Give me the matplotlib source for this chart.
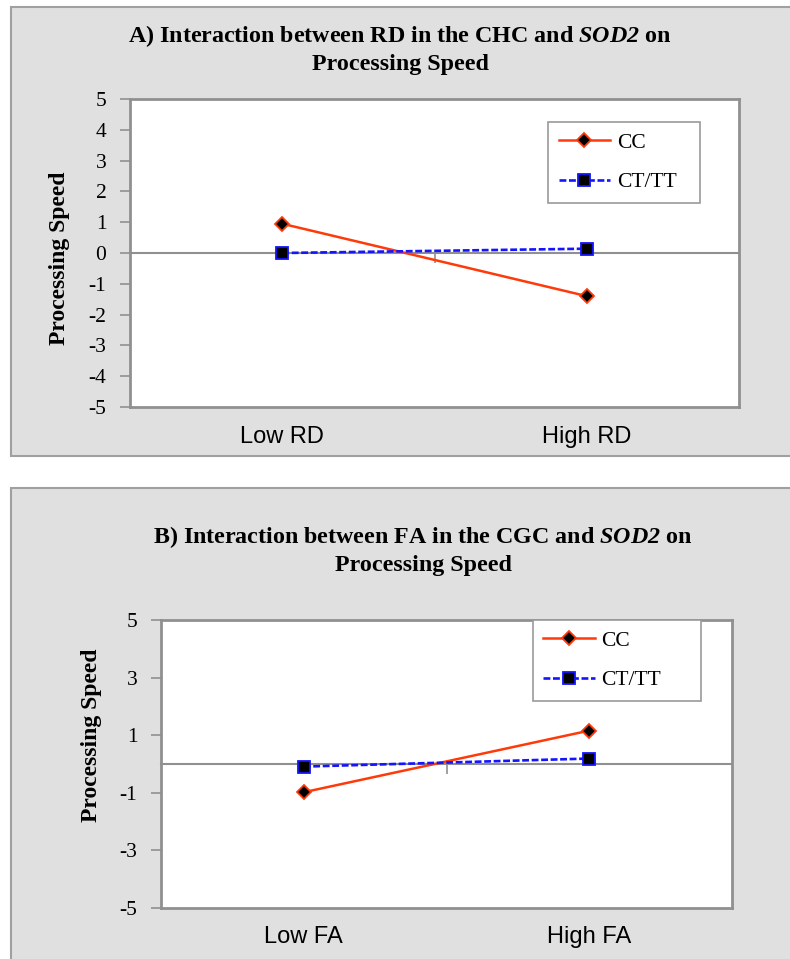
import matplotlib

matplotlib.use("Agg")
import matplotlib.pyplot as plt
from matplotlib.patches import Rectangle

plt.rcParams["axes.unicode_minus"] = False
plt.rcParams["mathtext.fontset"] = "custom"
plt.rcParams["mathtext.rm"] = "Liberation Serif"
plt.rcParams["mathtext.bf"] = "Liberation Serif:bold"
plt.rcParams["mathtext.it"] = "Liberation Serif:italic"
plt.rcParams["mathtext.bfit"] = "Liberation Serif:italic:bold"

SERIF, SANS = "Liberation Serif", "Liberation Sans"
RED, BLUE = "#ff3a0a", "#1414ff"
PANEL, EDGE, AXGRAY = "#e0e0e0", "#a0a0a0", "#909090"

W, H = 790, 959

# panel A: RD in the CHC
LABELS_A = ["Low RD", "High RD"]
CC_A = [0.95, -1.40]
CTTT_A = [0.0, 0.14]
YTICKS_A = [-5, -4, -3, -2, -1, 0, 1, 2, 3, 4, 5]

# panel B: FA in the CGC
LABELS_B = ["Low FA", "High FA"]
CC_B = [-0.98, 1.16]
CTTT_B = [-0.09, 0.19]
YTICKS_B = [-5, -3, -1, 1, 3, 5]


def fx(px):
    return px / W


def fy(py):
    return 1 - py / H


def box(fig, x0, y0, x1, y1):
    fig.patches.append(Rectangle((fx(x0), fy(y1)), (x1 - x0) / W, (y1 - y0) / H,
                                 transform=fig.transFigure, facecolor=PANEL,
                                 edgecolor=EDGE, lw=1.5, zorder=-1))


def draw_panel(ax, labels, cc, cttt, yticks, leg_box, xpad):
    x = list(range(len(labels)))
    ax.set_facecolor("white")
    ax.plot(x, cc, color=RED, lw=1.8, marker="D", ms=7, mfc="black",
            mec=RED, mew=1.3, label="CC", zorder=3)
    ax.plot(x, cttt, color=BLUE, lw=1.9, ls=(0, (2.6, 1.0)), marker="s", ms=8.5,
            mfc="black", mec=BLUE, mew=1.3, label="CT/TT", zorder=3)
    ax.set_xlim(-0.5, len(labels) - 0.5)
    ax.set_ylim(-5, 5)
    ax.set_yticks(yticks)
    ax.set_xticks(x, labels, fontfamily=SANS, fontsize=17)
    ax.tick_params(axis="x", length=0, pad=xpad)
    ax.tick_params(axis="y", direction="out", length=7, width=1.2,
                   color=AXGRAY, pad=10, labelsize=15.5)
    for lab in ax.get_yticklabels():
        lab.set_fontfamily(SERIF)
    for s in ax.spines.values():
        s.set_color(AXGRAY)
        s.set_linewidth(2)

    # category axis crossing at zero, with its single mid tick
    zero = ax.secondary_xaxis(0.5)
    zero.set_xticks([0.5], [""])
    zero.tick_params(direction="in", length=7, width=1.2, color=AXGRAY)
    for s in zero.spines.values():
        s.set_color(AXGRAY)
        s.set_linewidth(1.5)

    leg = ax.legend(loc="upper left", bbox_to_anchor=leg_box, mode="expand",
                    borderaxespad=0, fancybox=False, edgecolor="#9a9a9a",
                    framealpha=1, prop={"family": SERIF, "size": 15.5},
                    handlelength=2.4, handletextpad=0.3, labelspacing=0.9,
                    borderpad=0.5)
    leg.get_frame().set_linewidth(1.2)


fig = plt.figure(figsize=(W / 100, H / 100), dpi=100)
fig.patch.set_facecolor("white")

box(fig, 11, 7, 795, 456)
box(fig, 11, 488, 795, 965)

title_kw = dict(ha="center", va="baseline", fontsize=17.3, fontweight="bold", family=SERIF)
label_kw = dict(ha="center", va="center", rotation=90, fontsize=17,
                fontweight="bold", family=SERIF)

fig.text(fx(400), fy(42), r"A) Interaction between RD in the CHC and $\mathbfit{SOD2}$ on", **title_kw)
fig.text(fx(400), fy(70), "Processing Speed", **title_kw)
ax_a = fig.add_axes([fx(130), fy(407), (739 - 130) / W, (407 - 99) / H])
draw_panel(ax_a, LABELS_A, CC_A, CTTT_A, YTICKS_A, (0.686, 0.925, 0.25, 0.0), 14)
fig.text(fx(59), fy(258), "Processing Speed", **label_kw)

fig.text(fx(423), fy(543), r"B) Interaction between FA in the CGC and $\mathbfit{SOD2}$ on", **title_kw)
fig.text(fx(423), fy(571), "Processing Speed", **title_kw)
ax_b = fig.add_axes([fx(161), fy(908), (732 - 161) / W, (908 - 620) / H])
draw_panel(ax_b, LABELS_B, CC_B, CTTT_B, YTICKS_B, (0.651, 1.0, 0.294, 0.0), 13)
fig.text(fx(91), fy(735), "Processing Speed", **label_kw)

fig.savefig("out.png", dpi=100, facecolor="white")
